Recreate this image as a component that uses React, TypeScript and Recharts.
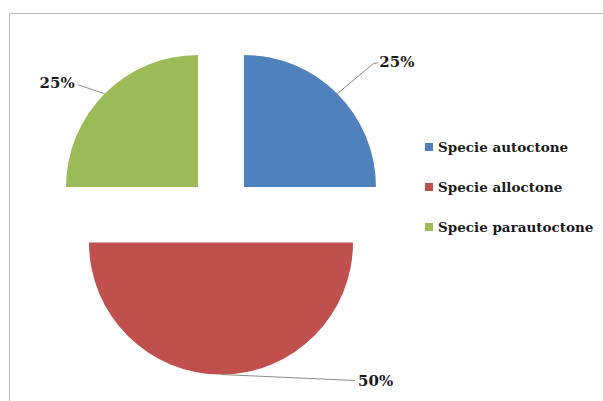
import { PieChart, Pie, Cell, Legend } from "recharts";

const categories = ["Specie autoctone", "Specie alloctone", "Specie parautoctone"];
const values = [25, 50, 25];
const colors = ["#4F81BD", "#C0504D", "#9BBB59"];

const data = categories.map((name, i) => ({ name, value: values[i] }));

const RADIAN = Math.PI / 180;
const CX = 221;
const CY = 210;
const RADIUS = 132;
const EXPLODE = 32.5;

// mid angle of every slice, same way recharts lays them out (start at 90, clockwise)
const total = values.reduce((a, b) => a + b, 0);
const midAngles = values.map((v, i) => {
  const before = values.slice(0, i).reduce((a, b) => a + b, 0);
  return 90 - ((before + v / 2) / total) * 360;
});

// leader lines, relative to the point on the arc
const leaders = [
  { bend: [36, -30], end: [41, -31], anchor: "start", tx: 1, ty: 4 },
  { bend: [134, 6], end: [134, 6], anchor: "start", tx: 3, ty: 5 },
  { bend: [-27, -9], end: [-27, -9], anchor: "end", tx: -3, ty: 3 },
];

const labelFont = "'DejaVu Serif', serif";

const renderLabel = (slice: number) => (props: any) => {
  if (props.index !== slice) return null;
  const { cx, cy, midAngle, outerRadius, percent } = props;
  const x0 = cx + outerRadius * Math.cos(-midAngle * RADIAN);
  const y0 = cy + outerRadius * Math.sin(-midAngle * RADIAN);
  const l = leaders[slice];
  const x1 = x0 + l.bend[0];
  const y1 = y0 + l.bend[1];
  const x2 = x0 + l.end[0];
  const y2 = y0 + l.end[1];
  return (
    <g>
      <polyline
        points={`${x0},${y0} ${x1},${y1} ${x2},${y2}`}
        fill="none"
        stroke="#8c8c8c"
        strokeWidth={1}
      />
      <text
        x={x2 + l.tx}
        y={y2 + l.ty}
        textAnchor={l.anchor as any}
        fontFamily={labelFont}
        fontWeight="bold"
        fontSize={15}
        fill="#1a1a1a"
      >
        {Math.round(percent * 100)}%
      </text>
    </g>
  );
};

const LegendBox = () => (
  <div>
    {categories.map((name, i) => (
      <div
        key={name}
        style={{
          display: "flex",
          alignItems: "center",
          height: 40,
          fontFamily: labelFont,
          fontWeight: "bold",
          fontSize: 13.5,
          color: "#1a1a1a",
          whiteSpace: "nowrap",
        }}
      >
        <span
          style={{
            display: "inline-block",
            width: 8,
            height: 8,
            background: colors[i],
            marginRight: 5,
          }}
        />
        {name}
      </div>
    ))}
  </div>
);

export default function App() {
  return (
    <div style={{ position: "absolute", left: 0, top: 0, width: 603, height: 401, background: "#fff" }}>
      <div
        style={{
          position: "absolute",
          left: 9,
          top: 13,
          width: 594,
          height: 388,
          borderTop: "1px solid #bfbfbf",
          borderLeft: "1px solid #bfbfbf",
        }}
      />
      <div style={{ position: "absolute", left: 0, top: 0 }}>
        <PieChart width={603} height={401} margin={{ top: 0, right: 0, bottom: 0, left: 0 }}>
          {values.map((_, k) => (
            <Pie
              key={k}
              data={data}
              dataKey="value"
              nameKey="name"
              cx={CX + EXPLODE * Math.cos(-midAngles[k] * RADIAN)}
              cy={CY + EXPLODE * Math.sin(-midAngles[k] * RADIAN)}
              outerRadius={RADIUS}
              startAngle={90}
              endAngle={-270}
              stroke="none"
              label={renderLabel(k)}
              labelLine={false}
              isAnimationActive={false}
              legendType="none"
            >
              {data.map((d, i) => (
                <Cell key={d.name} fill={i === k ? colors[i] : "transparent"} stroke="none" />
              ))}
            </Pie>
          ))}
          <Legend
            content={() => <LegendBox />}
            wrapperStyle={{ left: 425, top: 127, width: 180 }}
          />
        </PieChart>
      </div>
    </div>
  );
}
